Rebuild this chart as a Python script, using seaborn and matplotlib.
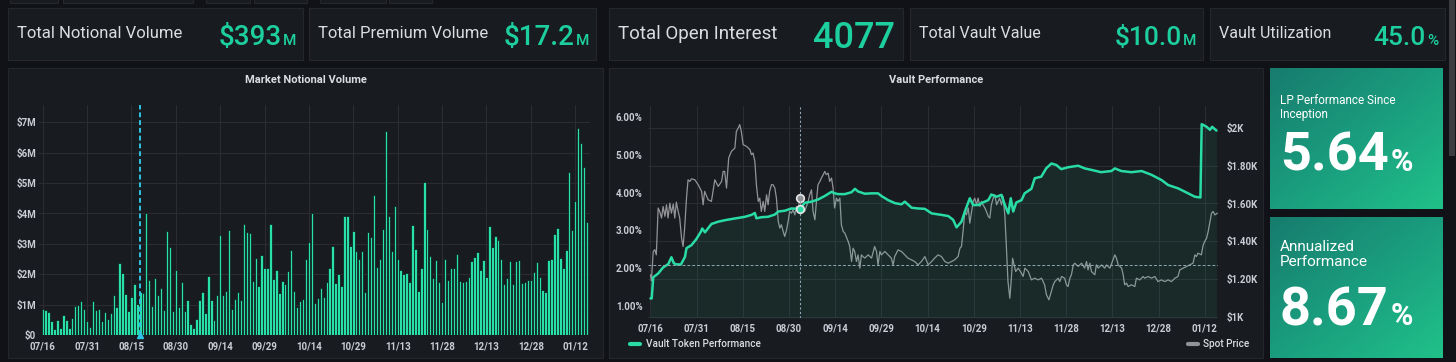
import numpy as np
import pandas as pd
import seaborn as sns
import matplotlib.pyplot as plt
from matplotlib.patches import Rectangle
from matplotlib.lines import Line2D
from matplotlib.colors import LinearSegmentedColormap

# ---------------- data ----------------
tick_labels = ['07/16', '07/31', '08/15', '08/30', '09/14', '09/29', '10/14',
               '10/29', '11/13', '11/28', '12/13', '12/28', '01/12']

stat_titles = ['Total Notional Volume', 'Total Premium Volume', 'Total Open Interest',
               'Total Vault Value', 'Vault Utilization']
stat_values = ['$393', '$17.2', '4077', '$10.0', '45.0']
stat_units = ['M', 'M', '', 'M', '%']

# daily notional volume, $M (07/16 .. 01/16)
notional_volume_m = [
    0.85, 0.82, 0.75, 0.47, 0.20, 0.51, 0.23, 0.67, 0.51, 0.24, 0.57, 0.96, 1.00, 1.13, 0.86,
    0.47, 0.27, 1.11, 0.83, 0.85, 0.47, 0.77, 0.54, 0.72, 1.33, 0.93, 2.36, 2.04, 1.36, 0.78,
    1.26, 1.67, 1.03, 1.40, 1.39, 4.00, 1.80,
    0.97, 1.89, 1.33, 1.54, 0.82, 3.42, 2.89, 0.78, 2.14, 0.91, 1.75, 0.80, 1.16, 0.36, 0.24,
    0.52, 1.16, 1.42, 0.72, 1.93, 1.16, 0.49, 1.32, 3.29, 1.33, 1.44, 3.45, 0.85, 1.19, 1.42,
    1.14, 3.64, 3.39, 3.37, 1.78, 2.52, 1.60,
    2.64, 2.21, 2.19, 3.65, 1.83, 2.14, 1.37, 1.78, 1.67, 2.11, 2.79, 1.45, 0.92, 1.11, 1.19,
    2.49, 3.06, 4.00, 1.04, 1.21, 1.54, 1.26, 1.76, 2.22, 2.94, 1.70, 2.02, 1.62, 3.92, 3.92,
    2.94, 3.42, 2.75, 2.50, 2.75, 1.42, 3.39,
    3.23, 4.60, 2.24, 2.49, 3.49, 6.73, 3.92, 2.78, 4.26, 2.51, 2.13, 2.02, 2.04, 1.73, 3.62,
    2.82, 1.44, 2.20, 5.04, 3.48, 2.60, 1.89, 2.46, 1.75, 1.09, 2.49, 1.80, 2.19, 2.21, 2.67,
    1.77, 1.73, 1.78, 1.90, 2.42, 2.57, 2.73,
    2.14, 2.47, 1.90, 3.58, 2.89, 3.25, 3.14, 2.49, 1.69, 1.87, 2.44, 1.69, 2.44, 2.47, 1.70,
    1.75, 1.80, 1.80, 2.08, 2.39, 1.92, 1.48, 1.42, 2.47, 2.50, 3.34, 3.51, 2.52, 2.19, 2.80,
    5.36, 3.45, 4.40, 6.82, 6.33, 5.53, 3.73,
]

# vault token performance (%), x = days since 07/16
vault_days = [
    0, 0.4, 0.9, 2.5, 4.1, 5.8, 6.8, 7.6, 8.5, 9.9, 11.2, 11.7, 13.3, 14.9, 16.4, 16.8, 17.7,
    19.8, 22.0, 24.2, 26.3, 28.5, 30.7, 32.8, 33.9, 34.4, 36.1, 38.2, 40.4, 41.5, 43.6, 45.8,
    48.5, 50.1, 52.3, 54.5, 56.6, 58.8, 59.9, 60.9, 63.1, 65.3, 66.4, 67.4, 69.6, 71.8, 73.9,
    75.0, 77.2, 79.4, 81.5, 82.6, 84.8, 86.9, 89.1, 91.3, 94.5, 96.7, 98.3, 99.4, 101.0, 102.1,
    103.7, 104.8, 106.4, 108.0, 109.7, 110.7, 112.4, 114.0, 115.1, 116.2, 117.0, 117.8, 118.8,
    120.5, 121.5, 123.7, 124.8, 126.9, 128.5, 130.2, 131.8, 133.4, 135.6, 138.9, 141.0, 143.2,
    146.3, 149.7, 150.8, 152.9, 156.2, 159.5, 162.7, 166.0, 168.1, 171.4, 174.6, 176.8, 178.6,
    179.0, 180.6, 181.7, 182.4, 183.8,
]
vault_perf = [
    1.20, 1.20, 1.76, 1.86, 2.02, 2.11, 2.29, 2.13, 2.10, 2.10, 2.30, 2.53, 2.61, 2.77, 2.97,
    3.05, 2.95, 3.17, 3.23, 3.27, 3.30, 3.33, 3.36, 3.41, 3.46, 3.32, 3.35, 3.36, 3.42, 3.50,
    3.52, 3.58, 3.57, 3.73, 3.76, 3.82, 3.91, 4.02, 3.98, 3.96, 3.96, 4.01, 4.10, 4.03, 3.97,
    3.98, 3.98, 3.91, 3.80, 3.72, 3.69, 3.76, 3.60, 3.58, 3.57, 3.45, 3.41, 3.38, 3.28, 3.08,
    3.23, 3.50, 3.85, 3.67, 3.67, 3.74, 3.80, 3.95, 3.89, 3.94, 3.67, 3.45, 3.85, 3.50, 3.74,
    3.80, 3.98, 4.10, 4.38, 4.42, 4.64, 4.77, 4.73, 4.62, 4.67, 4.71, 4.64, 4.60, 4.54, 4.57,
    4.64, 4.57, 4.54, 4.57, 4.47, 4.33, 4.20, 4.11, 3.98, 3.89, 3.87, 5.81, 5.74, 5.66, 5.74,
    5.64,
]

# spot price ($), x = days since 07/16
spot_days = [
    0, 0.3, 0.9, 1.4, 1.9, 2.5, 3.0, 3.6, 4.1, 4.7, 5.2, 5.7, 6.3, 6.8, 7.4, 7.9, 8.4, 9.0, 9.5,
    10.1, 10.6, 11.1, 11.7, 12.2, 12.8, 13.3, 14.4, 15.5, 16.6, 17.1, 17.6, 18.7, 19.8, 20.9,
    22.0, 23.1, 23.6, 24.1, 24.7, 25.4, 26.3, 27.4, 27.9, 28.5, 29.0, 29.5, 30.1, 31.2, 32.3,
    32.8, 33.3, 33.9, 34.4, 35.0, 35.5, 36.0, 36.6, 37.1, 37.7, 38.2, 38.7, 39.3, 39.8, 40.4,
    40.9, 41.5, 42.0, 42.5, 43.1, 43.6, 44.2, 44.7, 45.2, 45.8, 46.3, 46.9, 47.4, 47.9, 48.5,
    49.0, 50.1, 51.2, 51.7, 52.3, 52.8, 53.4, 53.9, 54.4, 55.0, 55.5, 56.1, 56.6, 57.1, 57.7,
    58.2, 58.8, 59.3, 59.8, 60.4, 60.9, 61.5, 62.0, 62.6, 63.1, 64.2, 64.7, 65.3, 65.8, 66.3,
    66.9, 67.4, 68.0, 68.5, 69.0, 69.6, 70.7, 71.8, 72.8, 73.4, 73.9, 74.5, 75.0, 76.1, 77.2,
    78.2, 78.8, 79.3, 80.4, 81.5, 82.6, 83.6, 84.7, 85.8, 86.9, 88.0,
    89.1, 90.2, 91.3, 92.3, 93.4, 94.5, 95.6, 96.7, 97.8, 98.8, 99.9, 100.5, 101.0, 101.5,
    102.1, 102.6, 103.2, 103.7, 104.3, 104.8, 105.3, 105.9, 106.4, 107.0, 107.5, 108.0, 108.6,
    109.1, 109.7, 110.2, 110.7, 111.3, 111.8, 112.4, 112.9, 113.4, 114.0, 114.5, 115.1, 115.5,
    116.1, 116.7, 117.2, 117.6, 118.1, 118.6, 119.4, 120.5, 121.0, 121.6, 122.7, 123.7, 124.8,
    125.9, 127.0, 128.0, 128.6, 129.4, 130.2, 130.8, 131.3, 132.4, 132.9, 133.5, 134.5, 135.1,
    135.6, 136.2, 136.7, 137.3, 137.8, 138.9, 140.0, 141.0, 141.6, 142.1, 142.7, 143.2, 144.3,
    144.8, 145.4, 146.5, 147.5, 148.1, 149.2, 150.2, 150.8, 151.3, 151.9, 153.0, 153.5, 154.0,
    154.6, 155.1, 156.2, 157.3, 157.8, 158.9, 160.0, 160.5, 161.6, 162.7, 163.8, 164.8, 165.9,
    167.0, 168.1, 169.2, 170.3, 171.3, 171.9, 173.0, 174.1, 175.1, 176.2, 176.8, 177.3, 177.8,
    178.9, 179.5, 180.0, 180.6, 181.1, 181.6, 182.2, 182.7, 183.3, 184.1,
]
spot_price = [
    1224, 1192, 1347, 1356, 1329, 1576, 1558, 1523, 1584, 1532, 1593, 1523, 1602, 1549, 1597,
    1523, 1607, 1558, 1523, 1417, 1373, 1470, 1628, 1725, 1716, 1730, 1725, 1699, 1664, 1593,
    1664, 1620, 1611, 1725, 1690, 1716, 1769, 1769, 1681, 1840, 1875, 1892, 1980, 1998, 2016,
    1980, 1910, 1901, 1884, 1857, 1866, 1822, 1699, 1611, 1628, 1558, 1611, 1558, 1646, 1593,
    1664, 1699, 1699, 1681, 1628, 1505, 1470, 1488, 1452, 1426, 1461, 1505, 1558, 1549, 1567,
    1540, 1584, 1558, 1628, 1576, 1558, 1611, 1646, 1672, 1558, 1514, 1611, 1699, 1716, 1734,
    1752, 1769, 1752, 1760, 1716, 1734, 1681, 1576, 1628, 1611, 1628, 1488, 1452, 1444, 1400,
    1373, 1294, 1364, 1347, 1294, 1329, 1259, 1329, 1320, 1312, 1329, 1312, 1373, 1347, 1276,
    1347, 1329, 1347, 1329, 1312, 1276, 1320, 1355, 1347, 1329, 1312, 1303, 1294, 1276, 1294,
    1320, 1276, 1294, 1312, 1329, 1320, 1294, 1285, 1294, 1303, 1320, 1364, 1373, 1452, 1558,
    1540, 1576, 1496, 1558, 1611, 1628, 1593, 1628, 1584, 1611, 1593, 1576, 1558, 1532, 1523,
    1593, 1628, 1646, 1593, 1611, 1628, 1593, 1637, 1532, 1400, 1188, 1100, 1206, 1311, 1276,
    1241, 1259, 1232, 1215, 1259, 1241, 1197, 1206, 1197, 1206, 1171, 1118, 1092, 1136, 1171,
    1188, 1206, 1188, 1215, 1206, 1171, 1162, 1206, 1224, 1276, 1285, 1268, 1285, 1259, 1294,
    1250, 1285, 1241, 1224, 1276, 1259, 1276, 1259, 1276, 1259, 1303, 1329, 1312, 1276, 1259,
    1224, 1171, 1180, 1162, 1171, 1162, 1206, 1197, 1215, 1206, 1215, 1206, 1215, 1188, 1197,
    1188, 1197, 1188, 1206, 1215, 1250, 1259, 1268, 1276, 1285, 1329, 1320, 1338, 1329, 1382,
    1400, 1417, 1452, 1496, 1549, 1558, 1540, 1549,
]

lp_performance = '5.64'
annualized_performance = '8.67'

# ---------------- style ----------------
PAGE = '#111217'
PANEL = '#181b1f'
BORDER = '#25272c'
GRID = '#2b2d32'
TEXT = '#dcdde2'
TICK = '#c9ccd4'
GREEN = '#1dcf9e'
BAR = '#2ae0a9'
LINE_GREEN = '#29dba5'
SPOT_GREY = '#939497'

sns.set_style('dark')
plt.rcParams['font.family'] = ['Roboto', 'DejaVu Sans']

W, H = 1456, 362
fig = plt.figure(figsize=(W / 100, H / 100), dpi=100, facecolor=PAGE)
renderer = fig.canvas.get_renderer()


def fbox(x0, y0, x1, y1):
    return [x0 / W, 1 - y1 / H, (x1 - x0) / W, (y1 - y0) / H]


def panel(x0, y0, x1, y1, fc=PANEL, ec=BORDER):
    fig.patches.append(Rectangle((x0 / W, 1 - y1 / H), (x1 - x0) / W, (y1 - y0) / H,
                                 transform=fig.transFigure, fc=fc, ec=ec, lw=0.8, zorder=-5))


def ftext(x, y, s, **kw):
    return fig.text(x / W, 1 - y / H, s, **kw)


# partially hidden toolbar buttons at the very top + scrollbar
for x0, x1 in [(10, 58), (63, 193), (206, 250), (254, 307), (320, 386), (389, 432)]:
    panel(x0, -10, x1, 3)
fig.patches.append(Rectangle((1449 / W, 1 - 156 / H), 6 / W, 156 / H,
                             transform=fig.transFigure, fc='#3b3c41', lw=0, zorder=-4))

# ---------------- stat row ----------------
stat_boxes = [(8, 303), (309, 596), (609, 903), (910, 1203), (1210, 1445)]
title_sizes = [12, 12, 13.5, 11.5, 11.5]
value_sizes = [20, 20, 26, 19, 19]
value_base = [45, 45, 48, 45, 45]
for (x0, x1), title, val, unit, ts, vs, vb in zip(stat_boxes, stat_titles, stat_values,
                                                  stat_units, title_sizes, value_sizes, value_base):
    panel(x0, 8, x1, 60)
    ftext(x0 + 9, 34, title, fontsize=ts, color=TEXT, va='center')
    u = ftext(x1 - 7, vb, unit, fontsize=11, color=GREEN, ha='right', va='baseline',
              fontweight='medium')
    ux = u.get_window_extent(renderer).x0 if unit else x1 - 7
    ftext(ux - 1, vb, val, fontsize=vs, color=GREEN, ha='right', va='baseline',
          fontweight='medium')

# ---------------- Market Notional Volume ----------------
panel(8, 68, 603, 358)
ftext(306, 80, 'Market Notional Volume', fontsize=8, fontweight='bold', color=TEXT,
      ha='center', va='center')

ax_bar = fig.add_axes(fbox(39, 105, 590, 335))
df_vol = pd.DataFrame({'day': np.arange(len(notional_volume_m)), 'volume': notional_volume_m})
sns.barplot(data=df_vol, x='day', y='volume', color=BAR, saturation=1, errorbar=None,
            edgecolor='#0b0c0f', linewidth=0.45, width=0.8, ax=ax_bar)
ax_bar.set_facecolor('none')
ax_bar.set_xlim(-1.25, 185.0)
ax_bar.set_ylim(0, 7.57)
ax_bar.set_xticks(range(0, 15 * len(tick_labels), 15))
ax_bar.set_xticklabels(tick_labels)
ax_bar.set_yticks(range(0, 8))
ax_bar.set_yticklabels(['$0'] + [f'${v}M' for v in range(1, 8)])
ax_bar.set_xlabel('')
ax_bar.set_ylabel('')
ax_bar.grid(True, color=GRID, lw=0.8)
ax_bar.set_axisbelow(True)
for s in ax_bar.spines.values():
    s.set_visible(False)
ax_bar.tick_params(axis='both', length=0, colors=TICK, labelsize=7)
ax_bar.tick_params(axis='y', pad=2)
ax_bar.tick_params(axis='x', pad=5)
for lab in ax_bar.get_xticklabels() + ax_bar.get_yticklabels():
    lab.set_fontweight('bold')
# hover crosshair
ax_bar.axvline(32.8, color='#2ec4e6', ls=(0, (2.5, 1.5)), lw=1.4, zorder=5)
ax_bar.plot(32.8, 0, marker='^', color='#2ec4e6', ms=4, clip_on=False, zorder=6)

# ---------------- Vault Performance ----------------
panel(609, 68, 1263, 358)
ftext(936, 80, 'Vault Performance', fontsize=8, fontweight='bold', color=TEXT,
      ha='center', va='center')

ax_v = fig.add_axes(fbox(648, 106, 1218, 318))
ax_s = ax_v.twinx()
ax_v.set_zorder(2)
ax_s.set_zorder(1)
ax_v.patch.set_visible(False)
ax_s.patch.set_visible(False)

v_lo, v_hi = 0.683, 6.29
sns.lineplot(x=spot_days, y=spot_price, ax=ax_s, color=SPOT_GREY, lw=0.9)
ax_v.fill_between(vault_days, vault_perf, v_lo, color=LINE_GREEN, alpha=0.08, lw=0)
sns.lineplot(x=vault_days, y=vault_perf, ax=ax_v, color=LINE_GREEN, lw=1.8)

ax_v.set_xlim(-0.8, 184.3)
ax_v.set_ylim(v_lo, v_hi)
ax_s.set_ylim(996, 2114)
ax_v.set_xticks(range(0, 15 * len(tick_labels), 15))
ax_v.set_xticklabels(tick_labels)
ax_v.set_yticks(range(1, 7))
ax_v.set_yticklabels([f'{v:.2f}%' for v in range(1, 7)])
ax_s.set_yticks(range(1000, 2001, 200))
ax_s.set_yticklabels(['$1K', '$1.20K', '$1.40K', '$1.60K', '$1.80K', '$2K'])
for a in (ax_v, ax_s):
    a.set_xlabel('')
    a.set_ylabel('')
    for s in a.spines.values():
        s.set_visible(False)
    a.tick_params(axis='both', length=0, colors=TICK, labelsize=7)
    for lab in a.get_xticklabels() + a.get_yticklabels():
        lab.set_fontweight('bold')
ax_v.tick_params(axis='y', pad=4)
ax_v.tick_params(axis='x', pad=4)
ax_s.tick_params(axis='y', pad=6)
ax_v.grid(False)
ax_s.grid(False)
ax_s.grid(True, axis='y', color=GRID, lw=0.8)
for t in ax_v.get_xticks():
    ax_s.axvline(t, color=GRID, lw=0.8, zorder=0)

# hover crosshair and points
hover_day = 48.5
ax_v.axvline(hover_day, color='#8fa6b4', ls=(0, (2, 2)), lw=0.8)
ax_v.axhline(2.08, color='#8fa6b4', ls=(0, (3, 2)), lw=0.7)
ax_s.plot(hover_day, np.interp(hover_day, spot_days, spot_price), 'o', ms=5.5,
          mfc='#8d8e91', mec='#e6e6e6', mew=1.2, zorder=6)
ax_v.plot(hover_day, np.interp(hover_day, vault_days, vault_perf), 'o', ms=5.5,
          mfc=LINE_GREEN, mec='#e6e6e6', mew=1.2, zorder=6)

# legend
fig.lines.append(Line2D([630 / W, 640 / W], [1 - 344 / H] * 2, transform=fig.transFigure,
                        color=LINE_GREEN, lw=3))
ftext(646, 344, 'Vault Token Performance', fontsize=7.2, color=TEXT, va='center',
      fontweight='medium')
fig.lines.append(Line2D([1188 / W, 1198 / W], [1 - 344 / H] * 2, transform=fig.transFigure,
                        color=SPOT_GREY, lw=3))
ftext(1203, 344, 'Spot Price', fontsize=7.2, color=TEXT, va='center', fontweight='medium')

# ---------------- performance cards ----------------
card_cmap = LinearSegmentedColormap.from_list('card', ['#177c6e', '#1a9d7e', '#20c189'])
grad = np.add.outer(np.linspace(0, 1, 60), np.linspace(0, 1, 80)) / 2
cards = [(68, 209, 'LP Performance Since\nInception', 8.5, 94, lp_performance, 171),
         (217, 358, 'Annualized\nPerformance', 11, 240, annualized_performance, 325)]
for y0, y1, label, lsize, ly, val, vb in cards:
    cax = fig.add_axes(fbox(1270, y0, 1443, y1))
    cax.imshow(grad, cmap=card_cmap, aspect='auto', extent=(0, 1, 0, 1))
    cax.axis('off')
    ftext(1280, ly, label, fontsize=lsize, color='white', va='top', linespacing=1.1)
    t = ftext(1280, vb, val, fontsize=39, fontweight='bold', color='white', va='baseline')
    x_end = t.get_window_extent(renderer).x1
    ftext(x_end + 2, vb, '%', fontsize=22, fontweight='bold', color='white', va='baseline')

fig.savefig('out.png', dpi=100, facecolor=PAGE)
